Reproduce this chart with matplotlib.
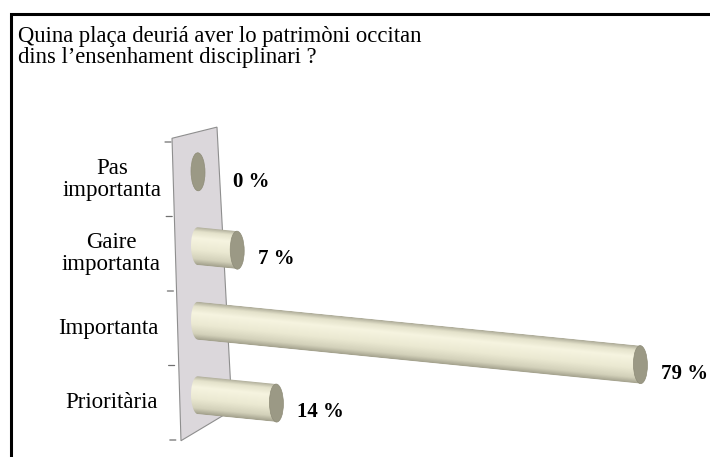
"""3D-style cylinder bar chart: place of Occitan heritage in teaching."""
import matplotlib.pyplot as plt
import numpy as np
from matplotlib.colors import LinearSegmentedColormap
from matplotlib.patches import Ellipse, PathPatch, Polygon, Rectangle
from matplotlib.path import Path
from matplotlib.transforms import Affine2D

title = "Quina plaça deuriá aver lo patrimòni occitan\ndins l\u2019ensenhament disciplinari ?"
categories = ["Pas\nimportanta", "Gaire\nimportanta", "Importanta", "Prioritària"]
values = [0, 7, 79, 14]
value_labels = ["0 %", "7 %", "79 %", "14 %"]

W, H = 710, 457
fig = plt.figure(figsize=(W / 100, H / 100), dpi=100)
serif = "Liberation Serif"

# axes box in pixels (image coords, y down)
ax_l, ax_r, ax_t, ax_b = 172, 705, 142, 440
ax = fig.add_axes([ax_l / W, 1 - ax_b / H, (ax_r - ax_l) / W, (ax_b - ax_t) / H])
px_per = 5.6            # pixels per percent
zero_px = 198
ax.set_xlim((ax_l - zero_px) / px_per, (ax_r - zero_px) / px_per)
ax.set_ylim(len(categories) - 0.5, -0.5)
ax.axis("off")

# back wall (decoration)
wall = Polygon([(-4.64, -0.55), (3.39, -0.70), (6.07, 3.10), (-3.04, 3.51)],
               closed=True, facecolor="#DBD7DB", edgecolor="#8E8E8E", lw=0.8,
               zorder=1, clip_on=False)
ax.add_patch(wall)

# tick marks at category boundaries and labels
for i, lab in enumerate(categories):
    ax.annotate(lab, xy=(0, i), xycoords=("axes fraction", "data"),
                xytext=(-10 - 1.5 * i, 0), textcoords="offset pixels",
                ha="right", va="center", multialignment="center",
                fontsize=16.5, family=serif, linespacing=1.05, zorder=5)
for j, b in enumerate(np.arange(-0.5, len(categories), 1.0)):
    ax.annotate("", xy=(-1 + 1.2 * j, b), xycoords=("axes pixels", "data"),
                xytext=(-6, 0), textcoords="offset pixels",
                arrowprops=dict(arrowstyle="-", color="#707070", lw=0.9,
                                shrinkA=0, shrinkB=0))

# perspective: bars drop to the right
x0 = ax.transData.transform((0, 0))[0]
k = 0.099
shear = Affine2D(np.array([[1, 0, 0], [-k, 1, k * x0], [0, 0, 1]]))
trans = ax.transData + shear

cmap = LinearSegmentedColormap.from_list("cyl", [
    (0.0, "#ADAB98"), (0.12, "#E4E2CB"), (0.3, "#F6F4E0"),
    (0.6, "#EBE9D2"), (0.85, "#D3D1BA"), (1.0, "#A2A08C")])
grad = np.linspace(0, 1, 64).reshape(-1, 1)

r = 0.255               # cylinder radius (category units)
cap_w = 14 / px_per     # end cap width (percent units)
shift = -0.1            # bars sit slightly above the label row

for i, v in enumerate(values):
    y = i + shift
    t = np.linspace(0, np.pi, 40)
    verts = [(v, y - r), (0, y - r)]
    verts += list(zip(-cap_w / 2 * np.sin(t), y - r * np.cos(t)))
    verts += [(0, y + r), (v, y + r), (v, y - r)]
    clip = PathPatch(Path(verts, closed=True), transform=trans, facecolor="none")
    im = ax.imshow(grad, extent=(-cap_w / 2, v, y + r, y - r), aspect="auto",
                   cmap=cmap, interpolation="bilinear", transform=trans, zorder=3)
    im.set_clip_path(clip)
    ax.add_patch(Ellipse((v, y), cap_w, 2 * r, transform=trans,
                         facecolor="#9B9985", edgecolor="#8E8C78", lw=0.5, zorder=4))
    # keep labels of tiny bars clear of the wall
    ax.annotate(value_labels[i], xy=(max(v, 2.5), y), xycoords=trans,
                xytext=(21, -9), textcoords="offset pixels",
                ha="left", va="center", fontsize=15, fontweight="bold",
                family=serif, zorder=5)

ax.set_xlim((ax_l - zero_px) / px_per, (ax_r - zero_px) / px_per)
ax.set_ylim(len(categories) - 0.5, -0.5)

fig.text(18 / W, 1 - 26 / H, title, ha="left", va="top", fontsize=16.3,
         family=serif, linespacing=0.98)

# outer frame (only left and top edges visible)
fig.add_artist(Rectangle((10.5 / W, -0.5), 2, 0.5 + 1 - 13.5 / H,
                         transform=fig.transFigure, fill=False,
                         edgecolor="black", lw=2.2))

fig.savefig("out.png", dpi=100)
